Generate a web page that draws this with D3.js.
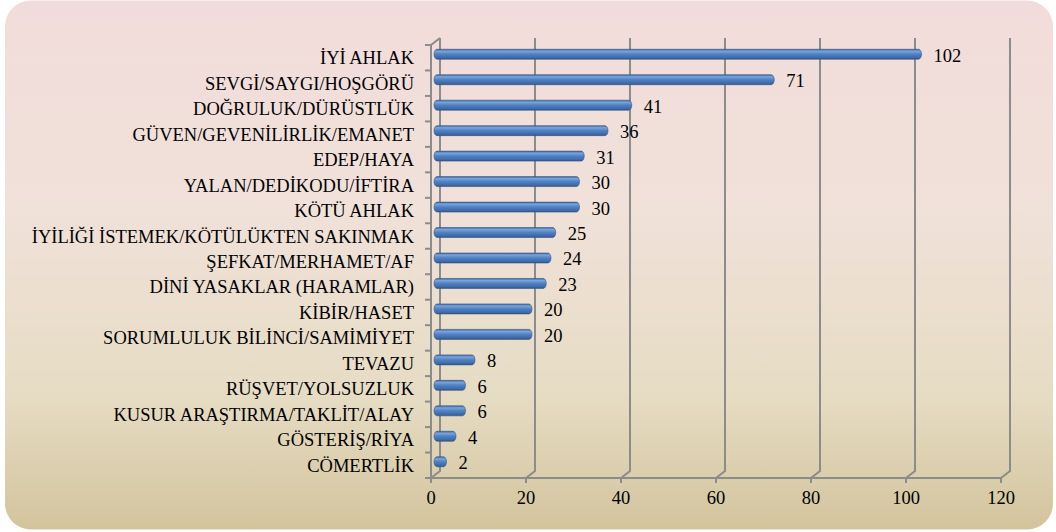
<!DOCTYPE html>
<html>
<head>
<meta charset="utf-8">
<script src="https://cdn.jsdelivr.net/npm/d3@7"></script>
<style>
  body { margin: 0; background: #fff; }
</style>
</head>
<body>
<script>
// categories and values, top to bottom
var categories = [
  "İYİ AHLAK",
  "SEVGİ/SAYGI/HOŞGÖRÜ",
  "DOĞRULUK/DÜRÜSTLÜK",
  "GÜVEN/GEVENİLİRLİK/EMANET",
  "EDEP/HAYA",
  "YALAN/DEDİKODU/İFTİRA",
  "KÖTÜ AHLAK",
  "İYİLİĞİ İSTEMEK/KÖTÜLÜKTEN SAKINMAK",
  "ŞEFKAT/MERHAMET/AF",
  "DİNİ YASAKLAR (HARAMLAR)",
  "KİBİR/HASET",
  "SORUMLULUK BİLİNCİ/SAMİMİYET",
  "TEVAZU",
  "RÜŞVET/YOLSUZLUK",
  "KUSUR ARAŞTIRMA/TAKLİT/ALAY",
  "GÖSTERİŞ/RİYA",
  "CÖMERTLİK"
];
var values = [102, 71, 41, 36, 31, 30, 30, 25, 24, 23, 20, 20, 8, 6, 6, 4, 2];
var xTicks = [0, 20, 40, 60, 80, 100, 120];

var width = 1056, height = 532;
var depthX = 9, depthY = -7;   // 3d wall offset
var gridColor = "#8c8c8c";
var fontFamily = "Liberation Serif";
var fontSize = "18.5px";

var svg = d3.select("body").append("svg")
  .attr("width", width)
  .attr("height", height);

var defs = svg.append("defs");
var bg = defs.append("linearGradient").attr("id", "bg")
  .attr("x1", 0).attr("y1", 0).attr("x2", 0).attr("y2", 1);
bg.append("stop").attr("offset", 0).attr("stop-color", "#f2dcdb");
bg.append("stop").attr("offset", 0.4).attr("stop-color", "#f0e1d9");
bg.append("stop").attr("offset", 0.75).attr("stop-color", "#e6dcc3");
bg.append("stop").attr("offset", 1).attr("stop-color", "#d3c49d");

var barGrad = defs.append("linearGradient").attr("id", "bar")
  .attr("x1", 0).attr("y1", 0).attr("x2", 0).attr("y2", 1);
barGrad.append("stop").attr("offset", 0).attr("stop-color", "#3d659c");
barGrad.append("stop").attr("offset", 0.2).attr("stop-color", "#7aa4dc");
barGrad.append("stop").attr("offset", 0.5).attr("stop-color", "#4f81c4");
barGrad.append("stop").attr("offset", 0.85).attr("stop-color", "#3f6aa6");
barGrad.append("stop").attr("offset", 1).attr("stop-color", "#2f4f7e");

// chart area background
svg.append("rect")
  .attr("x", 5).attr("y", 0.5)
  .attr("width", 1048).attr("height", 529)
  .attr("rx", 26).attr("ry", 26)
  .attr("fill", "url(#bg)");

// scales (front plane)
var x = d3.scaleLinear().domain([0, 120]).range([431, 1001]);
var y = d3.scaleBand().domain(categories).range([45, 478]);

var plotTop = y.range()[0], plotBottom = y.range()[1];

// back wall gridlines with the floor corner
var grid = svg.append("g");
xTicks.forEach(function (t) {
  var bx = x(t) + depthX;
  grid.append("path")
    .attr("d", "M" + bx + "," + (plotTop + depthY) +
      "L" + bx + "," + (plotBottom + depthY) +
      "L" + x(t) + "," + plotBottom)
    .attr("fill", "none")
    .attr("stroke", gridColor)
    .attr("stroke-width", 2);
});

// left wall
grid.append("path")
  .attr("d", "M" + x(0) + "," + plotBottom + "L" + x(0) + "," + plotTop +
    "L" + (x(0) + depthX) + "," + (plotTop + depthY))
  .attr("fill", "none").attr("stroke", gridColor).attr("stroke-width", 2);

// floor front edge
grid.append("line")
  .attr("x1", x(0)).attr("x2", x(120))
  .attr("y1", plotBottom).attr("y2", plotBottom)
  .attr("stroke", gridColor).attr("stroke-width", 2);

// bottom ticks
xTicks.forEach(function (t) {
  grid.append("line")
    .attr("x1", x(t)).attr("x2", x(t))
    .attr("y1", plotBottom).attr("y2", plotBottom + 5)
    .attr("stroke", gridColor).attr("stroke-width", 2);
});

// left ticks between categories
d3.range(categories.length + 1).forEach(function (i) {
  var ty = plotTop + i * y.step();
  grid.append("line")
    .attr("x1", x(0) - 6).attr("x2", x(0))
    .attr("y1", ty).attr("y2", ty)
    .attr("stroke", gridColor).attr("stroke-width", 2);
});

// bars
var barH = 10;
var data = categories.map(function (c, i) { return { name: c, value: values[i] }; });

function barY(d) { return y(d.name) + y.bandwidth() / 2 - 3.5 - barH / 2; }

svg.selectAll(".bar")
  .data(data)
  .enter().append("rect")
  .attr("class", "bar")
  .attr("x", x(0) + 3)
  .attr("y", barY)
  .attr("width", function (d) { return x(d.value) - x(0) + 3; })
  .attr("height", barH)
  .attr("rx", 3).attr("ry", barH / 2)
  .attr("fill", "url(#bar)")
  .attr("stroke", "#34598a")
  .attr("stroke-width", 0.6);

// value labels
svg.selectAll(".val")
  .data(data)
  .enter().append("text")
  .attr("class", "val")
  .attr("x", function (d) { return x(d.value) + 18; })
  .attr("y", function (d) { return barY(d) + barH / 2 + 1; })
  .attr("dy", "0.35em")
  .style("font-family", fontFamily)
  .style("font-size", fontSize)
  .text(function (d) { return d.value; });

// category labels
svg.selectAll(".cat")
  .data(categories)
  .enter().append("text")
  .attr("class", "cat")
  .attr("x", 414)
  .attr("y", function (d) { return y(d) + y.bandwidth() / 2; })
  .attr("dy", "0.35em")
  .attr("text-anchor", "end")
  .style("font-family", fontFamily)
  .style("font-size", fontSize)
  .text(function (d) { return d; });

// x tick labels
svg.selectAll(".xt")
  .data(xTicks)
  .enter().append("text")
  .attr("class", "xt")
  .attr("x", function (d) { return x(d); })
  .attr("y", 498)
  .attr("dy", "0.35em")
  .attr("text-anchor", "middle")
  .style("font-family", fontFamily)
  .style("font-size", fontSize)
  .text(function (d) { return d; });
</script>
</body>
</html>
